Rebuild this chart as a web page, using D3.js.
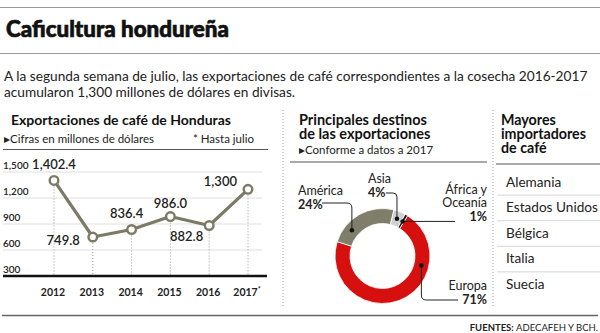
<!DOCTYPE html>
<html>
<head>
<meta charset="utf-8">
<script src="https://cdn.jsdelivr.net/npm/d3@7"></script>
<style>
  body { margin: 0; background: #fff; }
  svg { display: block; font-family: Lato, "Noto Sans", sans-serif; }
</style>
</head>
<body>
<svg id="chart" width="600" height="333"></svg>
<script>
// data
const years = ["2012", "2013", "2014", "2015", "2016", "2017"];
const exportValues = [1402.4, 749.8, 836.4, 986.0, 882.8, 1300];
const valueLabels = ["1,402.4", "749.8", "836.4", "986.0", "882.8", "1,300"];
const yTicks = [300, 600, 900, 1200, 1500];
const destinations = ["Europa", "América", "Asia", "África y Oceanía"];
const destinationShares = [71, 24, 4, 1];
const importers = ["Alemania", "Estados Unidos", "Bélgica", "Italia", "Suecia"];

const svg = d3.select("#chart");
const lineColor = "#7b7a64";

// fit a text node to a given width by scaling its font size
const fitWidth = (sel, target) => {
  const w = sel.node().getComputedTextLength();
  const size = parseFloat(sel.attr("font-size"));
  sel.attr("font-size", (size * target / w).toFixed(2));
  return sel;
};

// header
svg.append("line").attr("x1", 0).attr("x2", 600).attr("y1", 7.5).attr("y2", 7.5)
  .attr("stroke", "#999").attr("stroke-width", 1.2);
fitWidth(svg.append("text").attr("x", 6).attr("y", 37).attr("font-size", 22)
  .attr("font-weight", 900).attr("fill", "#111")
  .attr("stroke", "#111").attr("stroke-width", 0.7)
  .text("Caficultura hondureña"), 223);
svg.append("line").attr("x1", 0).attr("x2", 600).attr("y1", 53.5).attr("y2", 53.5)
  .attr("stroke", "#999").attr("stroke-width", 1.2);

const sub1 = svg.append("text").attr("x", 4).attr("y", 80.5).attr("font-size", 14.5)
  .attr("fill", "#222")
  .text("A la segunda semana de julio, las exportaciones de café correspondientes a la cosecha 2016-2017");
fitWidth(sub1, 584);
svg.append("text").attr("x", 4).attr("y", 97).attr("font-size", sub1.attr("font-size"))
  .attr("fill", "#222").text("acumularon 1,300 millones de dólares en divisas.");

// bottom rule and sources
svg.append("line").attr("x1", 2).attr("x2", 598).attr("y1", 315.5).attr("y2", 315.5)
  .attr("stroke", "#666").attr("stroke-width", 1.3);
const src = svg.append("text").attr("x", 598).attr("y", 331).attr("text-anchor", "end")
  .attr("font-size", 9.5).attr("fill", "#222");
src.append("tspan").attr("font-weight", 700).text("FUENTES: ");
src.append("tspan").text("ADECAFEH Y BCH.");

// dotted panel separators
[283, 493].forEach(x => {
  svg.append("line").attr("x1", x).attr("x2", x).attr("y1", 110).attr("y2", 306)
    .attr("stroke", "#aaa").attr("stroke-dasharray", "1,2");
});

// ---- left panel: line chart
fitWidth(svg.append("text").attr("x", 11).attr("y", 124.5).attr("font-size", 15)
  .attr("font-weight", 700).attr("fill", "#111").text("Exportaciones de café de Honduras"), 220);
svg.append("text").attr("x", 4).attr("y", 142.5).attr("font-size", 11.5).attr("fill", "#222")
  .text("▸Cifras en millones de dólares");
svg.append("text").attr("x", 254).attr("y", 142.5).attr("font-size", 11.5).attr("fill", "#222")
  .attr("text-anchor", "end").text("* Hasta julio");
svg.append("line").attr("x1", 3).attr("x2", 268).attr("y1", 149.5).attr("y2", 149.5)
  .attr("stroke", "#555").attr("stroke-width", 1.2);

const x = d3.scalePoint().domain(years).range([54, 248]);
const y = d3.scaleLinear().domain([300, 1500]).range([276, 172]);

const grid = svg.append("g");
grid.selectAll("line").data(yTicks.filter(t => t > 300)).join("line")
  .attr("x1", 3).attr("x2", 262)
  .attr("y1", d => y(d)).attr("y2", d => y(d))
  .attr("stroke", "#e0e0e0").attr("stroke-width", 1.2);
grid.selectAll("text").data(yTicks).join("text")
  .attr("x", 3).attr("y", d => y(d) - 3)
  .attr("font-size", 10).attr("font-weight", 600).attr("fill", "#222")
  .text(d => d3.format(",")(d));

const points = years.map((yr, i) => ({ year: yr, value: exportValues[i], label: valueLabels[i] }));

svg.append("g").selectAll("line").data(points).join("line")
  .attr("x1", d => x(d.year)).attr("x2", d => x(d.year))
  .attr("y1", d => y(d.value)).attr("y2", 276)
  .attr("stroke", "#999").attr("stroke-dasharray", "1,2");

svg.append("line").attr("x1", 3).attr("x2", 267).attr("y1", 276).attr("y2", 276)
  .attr("stroke", "#111").attr("stroke-width", 2.5);

svg.append("path").datum(points)
  .attr("fill", "none").attr("stroke", lineColor).attr("stroke-width", 3.2)
  .attr("stroke-linejoin", "round")
  .attr("d", d3.line().x(d => x(d.year)).y(d => y(d.value)));

svg.append("g").selectAll("circle").data(points).join("circle")
  .attr("cx", d => x(d.year)).attr("cy", d => y(d.value)).attr("r", 4.3)
  .attr("fill", "#fff").attr("stroke", lineColor).attr("stroke-width", 2.4);

// value label placement relative to each point
const labelOffsets = [
  { dx: 0, dy: -11, anchor: "middle" },
  { dx: -13, dy: 8, anchor: "end" },
  { dx: -5, dy: -12, anchor: "middle" },
  { dx: 0, dy: -9, anchor: "middle" },
  { dx: -6, dy: 16, anchor: "end" },
  { dx: -11, dy: -3, anchor: "end" }
];
svg.append("g").selectAll("text").data(points).join("text")
  .attr("x", (d, i) => x(d.year) + labelOffsets[i].dx)
  .attr("y", (d, i) => y(d.value) + labelOffsets[i].dy)
  .attr("text-anchor", (d, i) => labelOffsets[i].anchor)
  .attr("font-size", 13).attr("font-weight", 600).attr("fill", "#222")
  .text(d => d.label);

const yearLabels = svg.append("g").selectAll("text").data(years).join("text")
  .attr("x", d => x(d) - 1).attr("y", 296)
  .attr("text-anchor", "middle").attr("font-size", 10.5).attr("font-weight", 700)
  .attr("fill", "#222")
  .text(d => d);
yearLabels.filter(d => d === "2017").append("tspan")
  .attr("font-size", 7).attr("dy", -4).text("*");

// ---- middle panel: donut
const h1 = fitWidth(svg.append("text").attr("x", 299).attr("y", 124.5).attr("font-size", 14.5)
  .attr("font-weight", 700).attr("fill", "#111").text("Principales destinos"), 128);
svg.append("text").attr("x", 299).attr("y", 138.5).attr("font-size", h1.attr("font-size"))
  .attr("font-weight", 700).attr("fill", "#111").text("de las exportaciones");
svg.append("text").attr("x", 299).attr("y", 153.5).attr("font-size", 11.5).attr("fill", "#222")
  .text("▸Conforme a datos a 2017");
svg.append("line").attr("x1", 290).attr("x2", 487).attr("y1", 162).attr("y2", 162)
  .attr("stroke", "#555").attr("stroke-width", 1.2);

const cx = 382.5, cy = 256;
const sliceColors = ["#d6100f", "#7f7e6a", "#cfcfcf", "#222"];
const deg = Math.PI / 180;
const pie = d3.pie().sort(null).startAngle(32 * deg).endAngle(392 * deg);
const slices = pie(destinationShares);
const arc = d3.arc().innerRadius(32.5).outerRadius(47.5);

const donut = svg.append("g").attr("transform", `translate(${cx},${cy})`);
donut.selectAll("path").data(slices).join("path")
  .attr("d", arc)
  .attr("fill", (d, i) => sliceColors[i])
  .attr("stroke", "#fff").attr("stroke-width", 0.8);

// where the leader dot sits inside each slice (fraction of its sweep)
const dotAt = [0.28, 0.26, 0.5, 0.5];
const dots = slices.map((s, i) => {
  const a = s.startAngle + (s.endAngle - s.startAngle) * dotAt[i];
  return [cx + 40 * Math.sin(a), cy - 40 * Math.cos(a)];
});

const [eu, am, as, af] = dots;
const leaders = [
  `M${eu[0]},${eu[1]}V295Q${eu[0]},300 ${eu[0] + 5},300H458`,
  `M322,203H${am[0] - 5}Q${am[0]},203 ${am[0]},208V${am[1]}`,
  `M386,193H${as[0] - 4}Q${as[0]},193 ${as[0]},197V${as[1]}`,
  `M${af[0]},${af[1]}H455`
];
svg.append("g").selectAll("path").data(leaders).join("path")
  .attr("d", d => d).attr("fill", "none").attr("stroke", "#222").attr("stroke-width", 1);
svg.append("g").selectAll("circle").data(dots).join("circle")
  .attr("cx", d => d[0]).attr("cy", d => d[1]).attr("r", 2.3).attr("fill", "#111");

const donutLabels = [
  { lines: ["Europa"], x: 487, y: 290, anchor: "end" },
  { lines: ["América"], x: 298, y: 195, anchor: "start" },
  { lines: ["Asia"], x: 368, y: 183, anchor: "start" },
  { lines: ["África y", "Oceanía"], x: 487, y: 194, anchor: "end" }
];
donutLabels.forEach((l, i) => {
  const t = svg.append("text").attr("x", l.x).attr("y", l.y)
    .attr("text-anchor", l.anchor).attr("font-size", 12.5).attr("fill", "#222");
  l.lines.forEach((line, j) => {
    t.append("tspan").attr("x", l.x).attr("dy", j ? 13 : 0).text(line);
  });
  t.append("tspan").attr("x", l.x).attr("dy", 14).attr("font-weight", 700)
    .text(destinationShares[i] + "%");
});

// ---- right panel: importers list
const hs = fitWidth(svg.append("text").attr("x", 501).attr("y", 138.5).attr("font-size", 14.5)
  .attr("font-weight", 700).attr("fill", "#111").text("importadores"), 85).attr("font-size");
svg.append("text").attr("x", 501).attr("y", 124.5).attr("font-size", hs)
  .attr("font-weight", 700).attr("fill", "#111").text("Mayores");
svg.append("text").attr("x", 501).attr("y", 152.5).attr("font-size", hs)
  .attr("font-weight", 700).attr("fill", "#111").text("de café");
svg.append("line").attr("x1", 496).attr("x2", 600).attr("y1", 164).attr("y2", 164)
  .attr("stroke", "#555").attr("stroke-width", 1.2);

const rows = d3.scaleBand().domain(importers).range([169.5, 297.5]);
svg.append("g").selectAll("line").data(importers.slice(0, -1)).join("line")
  .attr("x1", 497).attr("x2", 600)
  .attr("y1", d => rows(d) + rows.bandwidth()).attr("y2", d => rows(d) + rows.bandwidth())
  .attr("stroke", "#d5d5d5");
const items = svg.append("g").selectAll("text").data(importers).join("text")
  .attr("x", 506).attr("y", d => rows(d) + 17)
  .attr("font-size", 14).attr("fill", "#222")
  .text(d => d);
const itemSize = fitWidth(items.filter(d => d === "Estados Unidos"), 92).attr("font-size");
items.attr("font-size", itemSize);
</script>
</body>
</html>
